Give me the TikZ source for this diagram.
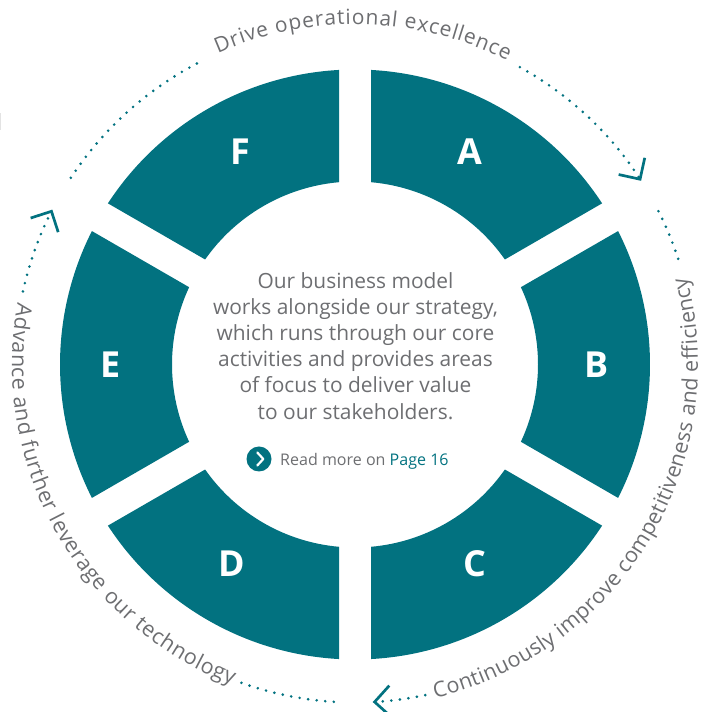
\documentclass[tikz,border=0pt]{standalone}
\usepackage{fontspec}
\setmainfont{Open Sans}
\usetikzlibrary{arrows.meta,decorations.text,calc}
\definecolor{ringteal}{RGB}{2,114,128}
\definecolor{inkgrey}{RGB}{109,110,113}

\begin{document}
\begin{tikzpicture}[x=1bp,y=1bp,
  segment/.style={fill=ringteal},
  seglabel/.style={text=white, inner sep=0pt, font=\fontsize{36}{36}\selectfont\bfseries},
  blurb/.style={text=inkgrey, inner sep=0pt, align=center, font=\fontsize{21}{26.3}\selectfont},
  trail/.style={draw=ringteal, line width=2.9bp, line cap=round, dash pattern=on 0bp off 8.6bp},
  chevron/.style={-{Straight Barb[length=15.5bp,width=31bp,line width=2.7bp]}},
  arctext/.style={decorate, decoration={text along path, text align={fit to path}, raise=#1}},
]
\useasboundingbox (0,0) rectangle (715,712);
\coordinate (C) at (355,347.5);

% faint edge mark on the left border
\draw[gray!22, line width=0.8bp] (0.5,599) -- (0.5,582);

% six ring segments separated by constant-width gaps (half gap 16)
% outer radius 295: asin(16/295)=3.109 deg; inner radius 183: asin(16/183)=5.016 deg
\foreach \u in {90,30,-30,-90,210,150}{
  \pgfmathsetmacro\l{\u-60}
  \fill[segment] ($(C)+(\u-3.109:295)$)
      arc[start angle=\u-3.109, end angle=\l+3.109, radius=295]
      -- ($(C)+(\l+5.016:183)$)
      arc[start angle=\l+5.016, end angle=\u-5.016, radius=183] -- cycle;
}

% segment letters
\node[seglabel] (seg-A) at (470,560.3) {A};
\node[seglabel] (seg-B) at (596.7,347.3) {B};
\node[seglabel] (seg-C) at (475,148) {C};
\node[seglabel] (seg-D) at (232,148) {D};
\node[seglabel] (seg-E) at (111,347.3) {E};
\node[seglabel] (seg-F) at (240,560.3) {F};

% central description
\node[blurb, anchor=north] (blurb) at (355.5,440)
  {Our business model\\works alongside our strategy,\\which runs through our core\\activities and provides areas\\of focus to deliver value\\to our stakeholders.};

\node[circle, fill=ringteal, minimum size=25bp, inner sep=0pt] (more-icon) at (259,253) {};
\draw[white, line width=2.2bp, line cap=round, line join=round]
  ($(more-icon)+(-1.7,6.5)$) -- ($(more-icon)+(4.3,0)$) -- ($(more-icon)+(-1.7,-6.5)$);
\node[anchor=base west, inner sep=0pt, text=inkgrey, font=\fontsize{16.1}{19}\selectfont] (more-text) at (280,246)
  {Read more on \textcolor{ringteal}{Page 16}};

% outer cycle: text arcs
\path[arctext=0bp, decoration={text={|\fontsize{21}{25}\selectfont\color{inkgrey}|Drive operational excellence}}]
  ($(C)+(113.8:340)$) arc[start angle=113.8, end angle=63.4, radius=340];
\path[arctext=-3bp, decoration={text={|\fontsize{21.5}{25}\selectfont\color{inkgrey}|Continuously improve competitiveness and efficiency}}]
  ($(C)+(-76.5:340)$) arc[start angle=-76.5, end angle=14.8, radius=340];
\path[arctext=-3bp, decoration={text={|\fontsize{21.5}{25}\selectfont\color{inkgrey}|Advance and further leverage our technology}}]
  ($(C)+(169.6:340)$) arc[start angle=169.6, end angle=249, radius=340];

% outer cycle: dotted trails and arrowheads
\coordinate (trail-1a) at ($(C)+(146.7:340)$);
\coordinate (trail-1b) at ($(C)+(61:340)$);
\coordinate (trail-2a) at ($(C)+(26.8:340)$);
\coordinate (trail-2b) at ($(C)+(-78:338)$);
\coordinate (trail-3a) at ($(C)+(-93.6:338)$);
\coordinate (trail-3b) at ($(C)+(167.6:340)$);
\draw[trail] (trail-1a) arc[start angle=146.7, end angle=116.7, radius=340];
\draw[trail, chevron] (trail-1b) arc[start angle=61, end angle=32.7, radius=340];
\draw[trail] (trail-2a) arc[start angle=26.8, end angle=17.7, radius=340];
\draw[trail, chevron] (trail-2b) arc[start angle=-78, end angle=-87, radius=338];
\draw[trail] (trail-3a) arc[start angle=-93.6, end angle=-110, radius=338];
\draw[trail, chevron] (trail-3b) arc[start angle=167.6, end angle=152.9, radius=340];
\end{tikzpicture}
\end{document}
